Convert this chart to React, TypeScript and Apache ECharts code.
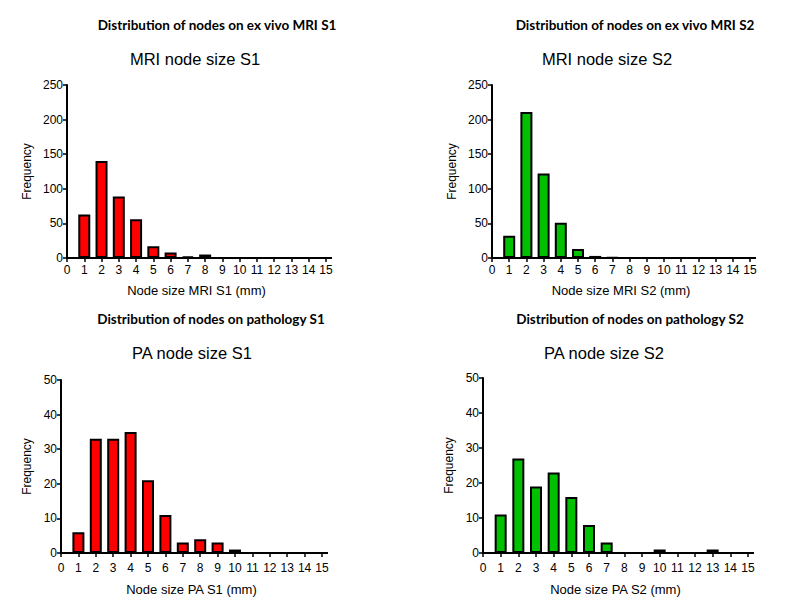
import React, { useEffect, useRef } from "react";
import * as echarts from "echarts";

const sizes = [1, 2, 3, 4, 5, 6, 7, 8, 9, 10, 11, 12, 13, 14, 15];
const mriS1 = [63, 140, 89, 56, 17, 8, 2, 5, 0, 0, 0, 0, 0, 0, 0];
const mriS2 = [32, 211, 122, 51, 13, 3, 1, 0, 0, 0, 0, 0, 0, 0, 0];
const paS1 = [6, 33, 33, 35, 21, 11, 3, 4, 3, 1, 0, 0, 0, 0, 0];
const paS2 = [11, 27, 19, 23, 16, 8, 3, 0, 0, 1, 0, 0, 1, 0, 0];

const mainTitles = [
  "Distribution of nodes on ex vivo MRI S1",
  "Distribution of nodes on ex vivo MRI S2",
  "Distribution of nodes on pathology S1",
  "Distribution of nodes on pathology S2",
];
const subTitles = ["MRI node size S1", "MRI node size S2", "PA node size S1", "PA node size S2"];
const xNames = ["Node size MRI S1 (mm)", "Node size MRI S2 (mm)", "Node size PA S1 (mm)", "Node size PA S2 (mm)"];
const yMax = [250, 250, 50, 50];
const yStep = [50, 50, 10, 10];

export default function App() {
  const ref = useRef<HTMLDivElement>(null);
  useEffect(() => {
    const chart = echarts.init(ref.current!, null, { renderer: "svg" });
    const grids = [
      { left: 67, top: 85, width: 259, height: 173 },
      { left: 492, top: 85, width: 258, height: 173 },
      { left: 61, top: 380, width: 261, height: 173 },
      { left: 483, top: 378, width: 265, height: 175 },
    ];
    const mainPos = [
      { x: 217, y: 18 },
      { x: 635, y: 18 },
      { x: 211, y: 312 },
      { x: 630, y: 312 },
    ];
    const subPos = [
      { x: 195, y: 50 },
      { x: 607, y: 50 },
      { x: 192, y: 344 },
      { x: 604, y: 344 },
    ];
    const datas = [mriS1, mriS2, paS1, paS2];
    const colors = ["#FF0000", "#00C000", "#FF0000", "#00C000"];
    const titles: any[] = [];
    for (let i = 0; i < 4; i++) {
      titles.push({
        text: mainTitles[i],
        left: mainPos[i].x,
        top: mainPos[i].y,
        textAlign: "center",
        padding: 0,
        textStyle: { fontFamily: "Lato", fontWeight: "bold", fontSize: 13.5, color: "#000" },
      });
      titles.push({
        text: subTitles[i],
        left: subPos[i].x,
        top: subPos[i].y,
        textAlign: "center",
        padding: 0,
        textStyle: { fontFamily: "Liberation Sans", fontWeight: "normal", fontSize: 16.5, color: "#000" },
      });
    }
    const axisLine = { show: true, lineStyle: { color: "#000", width: 2 } };
    const axisTick = { show: true, length: 4, lineStyle: { color: "#000", width: 1.5 } };
    const labelStyle = { color: "#000", fontFamily: "Liberation Sans", fontSize: 12 };
    const option: any = {
      animation: false,
      textStyle: { fontFamily: "Liberation Sans" },
      title: titles,
      grid: grids,
      xAxis: grids.map((_, i) => ({
        type: "value",
        gridIndex: i,
        min: 0,
        max: 15,
        interval: 1,
        axisLine,
        axisTick,
        axisLabel: { ...labelStyle, margin: i < 2 ? 6 : 9 },
        splitLine: { show: false },
        name: xNames[i],
        nameLocation: "middle",
        nameGap: i < 2 ? 26 : 30,
        nameTextStyle: { color: "#000", fontFamily: "Liberation Sans", fontSize: 13 },
      })),
      yAxis: grids.map((_, i) => ({
        type: "value",
        gridIndex: i,
        min: 0,
        max: yMax[i],
        interval: yStep[i],
        axisLine,
        axisTick,
        axisLabel: { ...labelStyle, margin: 4 },
        splitLine: { show: false },
        name: "Frequency",
        nameLocation: "middle",
        nameGap: i < 2 ? 34 : 28,
        nameRotate: 90,
        nameTextStyle: { color: "#000", fontFamily: "Liberation Sans", fontSize: 12 },
      })),
      series: datas.map((d, i) => ({
        type: "bar",
        xAxisIndex: i,
        yAxisIndex: i,
        barWidth: 12,
        data: sizes.map((s, j) => [s, d[j]]),
        itemStyle: { color: colors[i], borderColor: "#000", borderWidth: 2 },
      })),
    };
    chart.setOption(option);
    return () => chart.dispose();
  }, []);
  return (
    <div
      ref={ref}
      style={{ position: "absolute", left: 0, top: 0, width: 790, height: 612, background: "#fff" }}
    />
  );
}
